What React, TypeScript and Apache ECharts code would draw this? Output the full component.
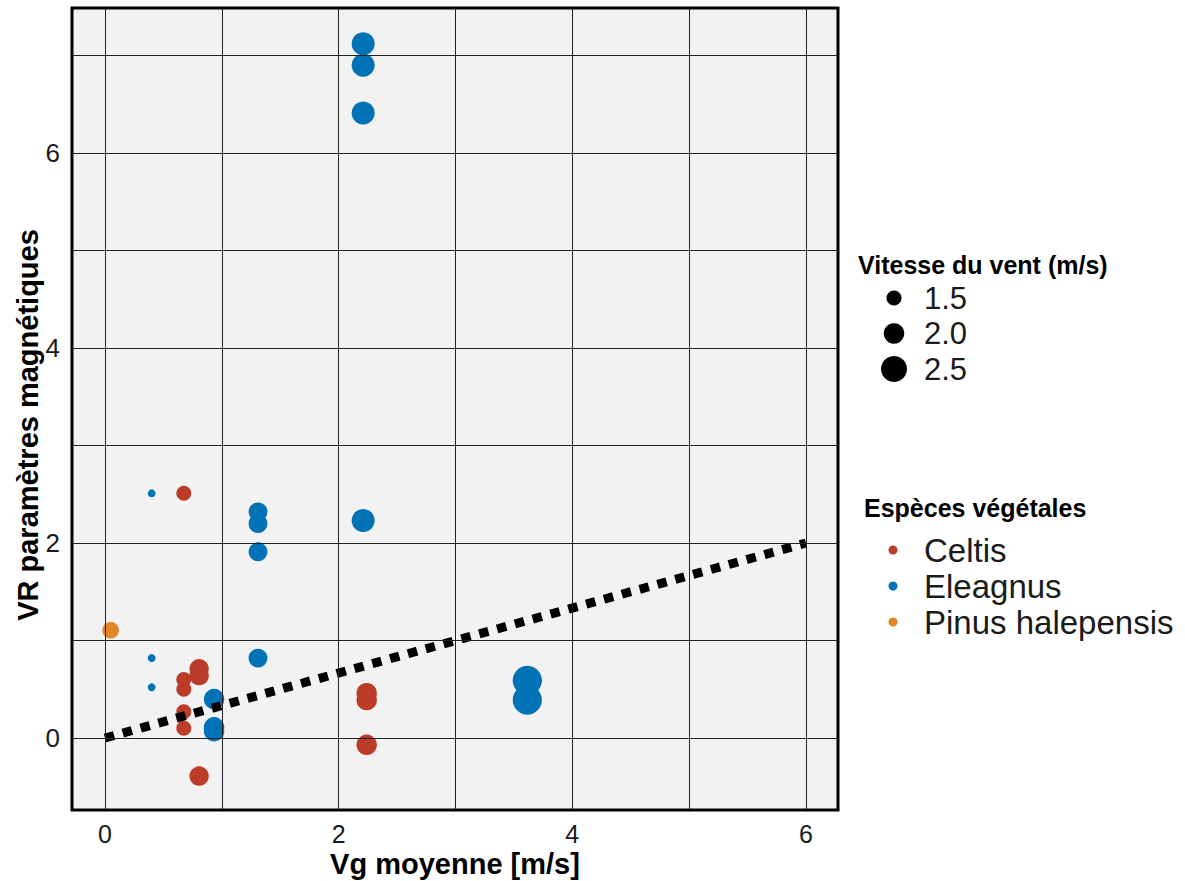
import React, { useEffect, useRef } from 'react';
import * as echarts from 'echarts';

// ---- data ----
const speciesNames = ['Celtis', 'Eleagnus', 'Pinus halepensis'];
const speciesColors = ['#BC3C29', '#0072B5', '#E18727'];

// [Vg moyenne, VR, vitesse du vent]
const celtisPoints = [
  [0.675, 2.51, 1.5],
  [0.675, 0.6, 1.5],
  [0.675, 0.5, 1.5],
  [0.675, 0.27, 1.5],
  [0.675, 0.1, 1.5],
  [0.806, 0.71, 1.9],
  [0.806, 0.64, 1.9],
  [0.806, -0.39, 1.9],
  [2.24, 0.46, 2.0],
  [2.24, 0.39, 2.0],
  [2.24, -0.07, 2.0],
];
const eleagnusPoints = [
  [0.4, 2.51, 0.85],
  [0.4, 0.82, 0.85],
  [0.4, 0.52, 0.85],
  [0.934, 0.4, 2.0],
  [0.934, 0.11, 2.0],
  [0.934, 0.07, 2.0],
  [1.31, 2.32, 1.85],
  [1.31, 2.2, 1.85],
  [1.31, 1.91, 1.85],
  [1.31, 0.82, 1.85],
  [2.21, 7.12, 2.23],
  [2.21, 6.9, 2.23],
  [2.21, 6.41, 2.23],
  [2.21, 2.23, 2.23],
  [3.615, 0.59, 2.8],
  [3.615, 0.39, 2.8],
];
const pinusPoints = [[0.049, 1.105, 1.65]];

const sizeLegendValues = [1.5, 2.0, 2.5];
const sizeLegendLabels = ['1.5', '2.0', '2.5'];
const xTickValues = [0, 2, 4, 6];
const yTickValues = [0, 2, 4, 6];
const xGridValues = [0, 1, 2, 3, 4, 5, 6];
const yGridValues = [0, 1, 2, 3, 4, 5, 6, 7];
const regressionLine = [
  [0, 0],
  [6, 2],
];
const r2Label = 'R² = 0.2845';
const r2Anchor = [5.22, 2.14];
const xTitle = 'Vg moyenne [m/s]';
const yTitle = 'VR paramètres magnétiques';
const sizeLegendTitle = 'Vitesse du vent (m/s)';
const speciesLegendTitle = 'Espèces végétales';

const FONT = '"Liberation Sans", Arial, Helvetica, sans-serif';

const sizeOf = (s: number) => 15 + (s - 1.5) * 11;

export default function App() {
  const ref = useRef<HTMLDivElement>(null);

  useEffect(() => {
    if (!ref.current) return;
    const chart = echarts.init(ref.current, undefined, { renderer: 'svg' });
    const pointSets = [celtisPoints, eleagnusPoints, pinusPoints];

    const graphic: any[] = [];
    graphic.push({
      type: 'text',
      x: 28,
      y: 425,
      rotation: Math.PI / 2,
      style: {
        text: yTitle,
        font: `bold 29px ${FONT}`,
        fill: '#000',
        align: 'center',
        verticalAlign: 'middle',
      },
    });
    graphic.push({
      type: 'text',
      x: 455,
      y: 864,
      style: {
        text: xTitle,
        font: `bold 29px ${FONT}`,
        fill: '#000',
        align: 'center',
        verticalAlign: 'middle',
      },
    });
    graphic.push({
      type: 'text',
      left: 858,
      top: 252,
      style: { text: sizeLegendTitle, font: `bold 25px ${FONT}`, fill: '#000' },
    });
    sizeLegendValues.forEach((v, i) => {
      const cy = 298 + i * 35.5;
      graphic.push({
        type: 'circle',
        shape: { cx: 894, cy, r: sizeOf(v) / 2 },
        style: { fill: '#000' },
      });
      graphic.push({
        type: 'text',
        x: 924,
        y: cy,
        style: {
          text: sizeLegendLabels[i],
          font: `31px ${FONT}`,
          fill: '#1a1a1a',
          verticalAlign: 'middle',
          align: 'left',
        },
      });
    });
    graphic.push({
      type: 'text',
      left: 864,
      top: 495,
      style: { text: speciesLegendTitle, font: `bold 25px ${FONT}`, fill: '#000' },
    });
    speciesNames.forEach((n, i) => {
      const cy = 550 + i * 36;
      graphic.push({
        type: 'circle',
        shape: { cx: 893, cy, r: 4.5 },
        style: { fill: speciesColors[i] },
      });
      graphic.push({
        type: 'text',
        x: 924,
        y: cy,
        style: {
          text: n,
          font: `33px ${FONT}`,
          fill: '#1a1a1a',
          verticalAlign: 'middle',
          align: 'left',
        },
      });
    });

    const option: any = {
      animation: false,
      textStyle: { fontFamily: FONT },
      grid: {
        left: 72,
        right: 347,
        top: 8,
        bottom: 71,
        show: true,
        containLabel: false,
        outerBoundsMode: 'none',
        backgroundColor: '#F2F2F2',
        borderColor: '#000',
        borderWidth: 3,
      },
      xAxis: {
        type: 'value',
        min: -0.282,
        max: 6.274,
        axisLine: { show: false },
        axisTick: {
          show: true,
          customValues: xTickValues,
          length: 5,
          lineStyle: { color: '#333', width: 1 },
        },
        axisLabel: {
          customValues: xTickValues,
          fontSize: 25,
          color: '#1a1a1a',
          margin: 11,
          fontFamily: FONT,
        },
        splitLine: { show: false },
      },
      yAxis: {
        type: 'value',
        min: -0.738,
        max: 7.487,
        axisLine: { show: false },
        axisTick: {
          show: true,
          customValues: yTickValues,
          length: 5,
          lineStyle: { color: '#333', width: 1 },
        },
        axisLabel: {
          customValues: yTickValues,
          fontSize: 26,
          color: '#1a1a1a',
          margin: 12,
          fontFamily: FONT,
        },
        splitLine: { show: false },
      },
      graphic,
      series: [
        {
          type: 'scatter',
          name: 'grid',
          data: [],
          z: 1,
          silent: true,
          markLine: {
            silent: true,
            symbol: ['none', 'none'],
            label: { show: false },
            emphasis: { disabled: true },
            lineStyle: { color: '#222', width: 1, type: 'solid' },
            data: [
              ...xGridValues.map((v) => ({ xAxis: v })),
              ...yGridValues.map((v) => ({ yAxis: v })),
            ],
          },
        },
        ...speciesNames.map((n, i) => ({
          type: 'scatter',
          name: n,
          data: pointSets[i],
          z: 2,
          symbolSize: (val: number[]) => sizeOf(val[2]),
          itemStyle: { color: speciesColors[i], opacity: 1 },
          emphasis: { disabled: true },
        })),
        {
          type: 'line',
          name: 'regression',
          data: regressionLine,
          z: 3,
          showSymbol: false,
          symbol: 'none',
          silent: true,
          lineStyle: { color: '#000', width: 9, type: [9.5, 9], cap: 'butt' },
        },
        {
          type: 'scatter',
          name: 'r2',
          data: [r2Anchor],
          z: 4,
          symbolSize: 1,
          itemStyle: { opacity: 0 },
          silent: true,
          label: {
            show: true,
            position: 'inside',
            formatter: r2Label,
            fontSize: 24,
            fontWeight: 'bold',
            color: '#000',
            fontFamily: FONT,
          },
        },
      ],
    };
    chart.setOption(option);
    return () => chart.dispose();
  }, []);

  return (
    <div
      ref={ref}
      style={{ position: 'fixed', left: 0, top: 0, width: 1185, height: 881, background: '#fff' }}
    />
  );
}
